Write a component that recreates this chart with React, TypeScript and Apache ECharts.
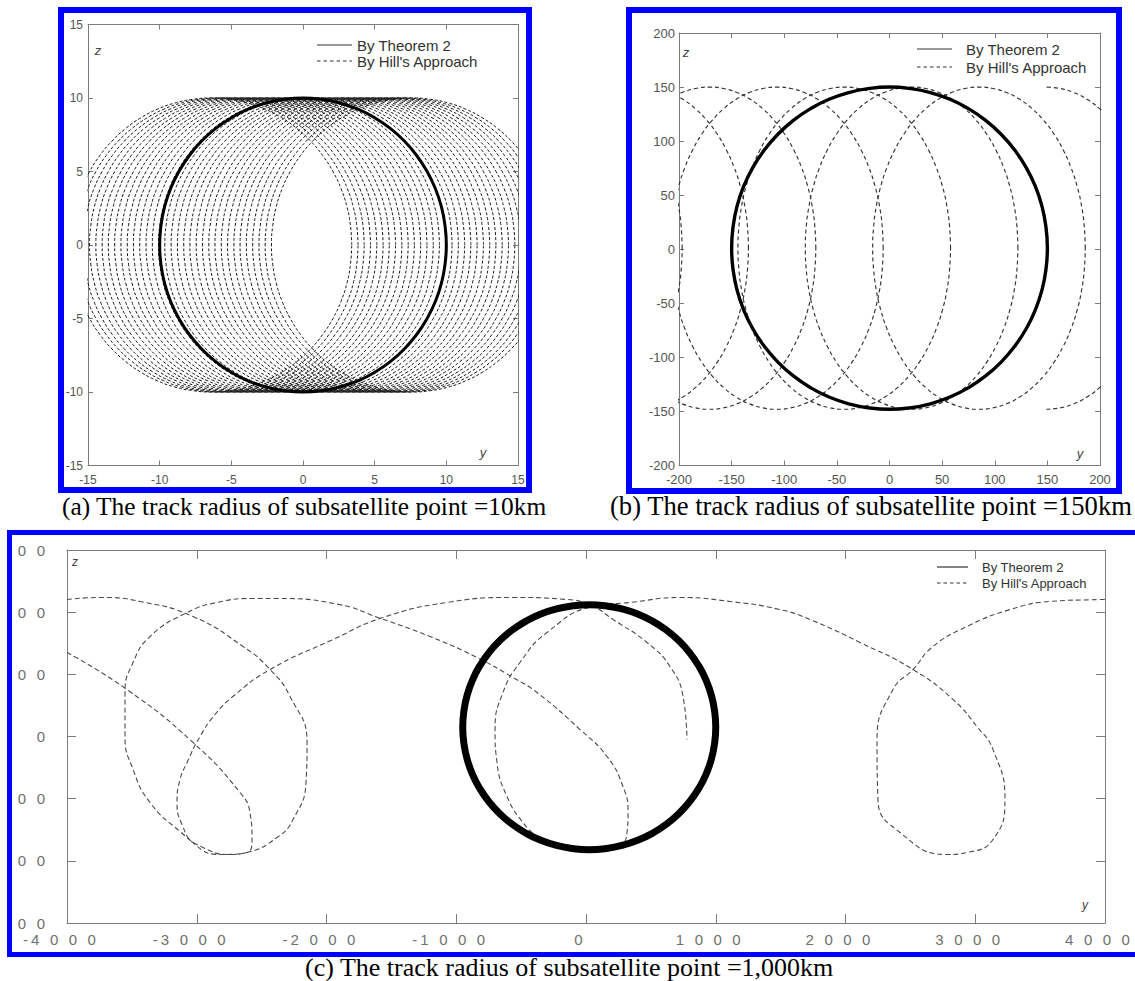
import React, { useEffect, useRef } from "react";
import * as echarts from "echarts";

// ---------- unit loop (cos, sin every 7.5 degrees), used to trace closed tracks ----------
const UNIT_LOOP: number[][] = [
  [1, 0], [0.991, 0.131], [0.966, 0.259], [0.924, 0.383], [0.866, 0.5], [0.793, 0.609],
  [0.707, 0.707], [0.609, 0.793], [0.5, 0.866], [0.383, 0.924], [0.259, 0.966], [0.131, 0.991],
  [0, 1], [-0.131, 0.991], [-0.259, 0.966], [-0.383, 0.924], [-0.5, 0.866], [-0.609, 0.793],
  [-0.707, 0.707], [-0.793, 0.609], [-0.866, 0.5], [-0.924, 0.383], [-0.966, 0.259], [-0.991, 0.131],
  [-1, 0], [-0.991, -0.131], [-0.966, -0.259], [-0.924, -0.383], [-0.866, -0.5], [-0.793, -0.609],
  [-0.707, -0.707], [-0.609, -0.793], [-0.5, -0.866], [-0.383, -0.924], [-0.259, -0.966], [-0.131, -0.991],
  [0, -1], [0.131, -0.991], [0.259, -0.966], [0.383, -0.924], [0.5, -0.866], [0.609, -0.793],
  [0.707, -0.707], [0.793, -0.609], [0.866, -0.5], [0.924, -0.383], [0.966, -0.259], [0.991, -0.131],
];

const SERIES_NAMES = ["By Theorem 2", "By Hill's Approach"];

// ---------- panel (a): track radius 10 km ----------
const A_TICKS_Y = [-15, -10, -5, 0, 5, 10, 15];
const A_TICKS_Z = [-15, -10, -5, 0, 5, 10, 15];
const A_THEOREM_CIRCLE = [0, 0, 10, 10]; // centre y, centre z, radius y, radius z
const A_HILL_LOOP_CENTRES = [
  -6.4, -5.96, -5.53, -5.09, -4.65, -4.21, -3.78, -3.34, -2.9, -2.46, -2.03,
  -1.59, -1.15, -0.71, -0.28, 0.16, 0.6, 1.04, 1.48, 1.91, 2.35, 2.79,
  3.23, 3.66, 4.1, 4.54, 4.98, 5.41, 5.85, 6.29, 6.73, 7.16, 7.6,
];
const A_HILL_LOOP_SIZE = [0, 9.8, 10]; // centre z, half-width y, half-height z

// ---------- panel (b): track radius 150 km ----------
const B_TICKS_Y = [-200, -150, -100, -50, 0, 50, 100, 150, 200];
const B_TICKS_Z = [-200, -150, -100, -50, 0, 50, 100, 150, 200];
const B_THEOREM_CIRCLE = [0, 1, 150, 149];
const B_HILL_LOOP_CENTRES = [-298, -235, -171, -107, -43, 21, 85, 149];
// drawn part of each loop, degrees (0 = rightmost point, counter-clockwise)
const B_HILL_LOOP_ARCS = [
  [0, 360], [0, 360], [0, 360], [0, 360], [0, 360], [0, 360], [0, 360], [-90, 90],
];
const B_HILL_LOOP_SIZE = [1, 101, 149];

// ---------- panel (c): track radius 1,000 km ----------
const C_TICKS_Y = [-4000, -3000, -2000, -1000, 0, 1000, 2000, 3000, 4000];
const C_TICKS_Z = [-1500, -1000, -500, 0, 500, 1000, 1500];
const C_THEOREM_CIRCLE = [25, 75, 975, 985];
const C_HILL_TRACK_1 = [
  [-4000, 1102], [-3746, 1118], [-3437, 1086], [-3029, 965], [-2643, 724], [-2435, 539],
  [-2281, 322], [-2150, -48], [-2158, -370], [-2258, -668], [-2381, -812], [-2613, -933],
  [-2744, -949], [-2952, -893], [-3129, -764], [-3360, -531], [-3491, -265], [-3553, 0],
  [-3553, 354], [-3491, 595], [-3360, 804], [-3075, 997], [-2844, 1078], [-2566, 1110],
  [-2381, 1110], [-1904, 1062], [-1603, 957], [-1202, 804], [-840, 635], [-563, 475],
  [-378, 354], [-46, 56], [162, -161], [285, -402], [324, -611], [316, -772], [262, -870],
  [-8, -915], [-301, -875], [-355, -828], [-486, -692], [-609, -483], [-686, -209],
  [-701, 56], [-640, 354], [-509, 595], [-301, 836], [54, 1046], [339, 1078], [724, 1118],
  [1110, 1086], [1495, 1021], [1726, 941], [2112, 756], [2520, 539], [2828, 298],
  [3013, 80], [3137, -105], [3229, -507], [3137, -828], [2936, -933], [2782, -949],
  [2420, -772], [2250, -507], [2243, -24], [2366, 378], [2520, 539], [2674, 724],
  [2936, 885], [3268, 1021], [3576, 1086], [3961, 1102], [4000, 1104],
];
const C_HILL_TRACK_2 = [
  [-4000, 676], [-3538, 378], [-3029, -48], [-2667, -450], [-2590, -611], [-2574, -828],
  [-2613, -933], [-2821, -949], [-3013, -869], [-3114, -708], [-3152, -531], [-3129, -346],
  [-3075, -209], [-2975, 0], [-2859, 177], [-2721, 322], [-2435, 539], [-1950, 780],
  [-1565, 957], [-1071, 1078], [-563, 1118], [-146, 1102], [54, 1046], [208, 941],
  [470, 756], [647, 563], [748, 322], [778, -24],
];

const SANS = "Liberation Sans";
const SERIF = "Liberation Serif";
const AXIS_GREY = "#7c7c7c";

// points of a loop (centre y, centre z, half-width, half-height) between two angles
function loopArc(c: number[], fromDeg: number, toDeg: number): number[][] {
  const [cy, cz, ry, rz] = c;
  const n = UNIT_LOOP.length;
  const step = 360 / n;
  const pts: number[][] = [];
  for (let k = Math.round(fromDeg / step); k <= Math.round(toDeg / step); k++) {
    const [u, v] = UNIT_LOOP[((k % n) + n) % n];
    pts.push([cy + ry * u, cz + rz * v]);
  }
  return pts;
}

function spaced(s: string): string {
  if (s === "0") return "0";
  const neg = s.startsWith("-");
  const digits = (neg ? s.slice(1) : s).split("").join("\u2002\u2009");
  return (neg ? "-\u2009" : "") + digits;
}

function buildOption() {
  const xAxes: any[] = [];
  const yAxes: any[] = [];

  const addPanel = (gi: number, tx: number[], ty: number[], lab: any) => {
    const base = (ticks: number[]) => ({
      type: "value",
      gridIndex: gi,
      min: ticks[0],
      max: ticks[ticks.length - 1],
      interval: ticks[1] - ticks[0],
      splitLine: { show: false },
      axisLine: { show: true, onZero: false, lineStyle: { color: AXIS_GREY, width: 1 } },
      axisTick: { show: true, inside: true, length: lab.tick, lineStyle: { color: AXIS_GREY, width: 1 } },
    });
    const label = (margin: number, fmt?: any, padding?: number[]) => ({
      show: true,
      color: lab.color,
      fontSize: lab.size,
      fontFamily: SANS,
      margin,
      showMinLabel: true,
      showMaxLabel: true,
      ...(fmt ? { formatter: fmt } : {}),
      ...(padding ? { padding } : {}),
    });
    xAxes.push({ ...base(tx), position: "bottom", axisLabel: label(lab.mx, lab.fx, lab.px) });
    xAxes.push({ ...base(tx), position: "top", axisLabel: { show: false } });
    yAxes.push({ ...base(ty), position: "left", axisLabel: label(lab.my, lab.fy) });
    yAxes.push({ ...base(ty), position: "right", axisLabel: { show: false } });
  };

  addPanel(0, A_TICKS_Y, A_TICKS_Z, { tick: 5, color: "#555", size: 12, mx: 8, my: 5 });
  addPanel(1, B_TICKS_Y, B_TICKS_Z, { tick: 5, color: "#555", size: 13, mx: 7, my: 4 });
  addPanel(2, C_TICKS_Y, C_TICKS_Z, {
    tick: 9, color: "#707070", size: 15, mx: 9, my: 22, px: [0, 15, 0, 0],
    fx: (v: number) => spaced(String(v)),
    fy: (v: number) => (v === 0 ? "0" : "0\u2002\u20090"),
  });

  const series: any[] = [];
  const dashed = (axis: number, data: number[][], color: string, dash: number[], width: number) => ({
    type: "line",
    name: SERIES_NAMES[1],
    xAxisIndex: axis,
    yAxisIndex: axis,
    data,
    smooth: true,
    symbol: "none",
    silent: true,
    animation: false,
    z: 2,
    lineStyle: { color, width, type: dash },
  });
  const solid = (axis: number, data: number[][], width: number) => ({
    type: "line",
    name: SERIES_NAMES[0],
    xAxisIndex: axis,
    yAxisIndex: axis,
    data,
    smooth: true,
    symbol: "none",
    silent: true,
    animation: false,
    z: 3,
    lineStyle: { color: "#000", width, type: "solid" },
  });

  A_HILL_LOOP_CENTRES.forEach((c) =>
    series.push(
      dashed(0, loopArc([c, A_HILL_LOOP_SIZE[0], A_HILL_LOOP_SIZE[1], A_HILL_LOOP_SIZE[2]], 0, 360), "#1a1a1a", [3, 2], 1)
    )
  );
  series.push(solid(0, loopArc(A_THEOREM_CIRCLE, -7.5, 367.5), 3));

  B_HILL_LOOP_CENTRES.forEach((c, i) =>
    series.push(
      dashed(
        2,
        loopArc([c, B_HILL_LOOP_SIZE[0], B_HILL_LOOP_SIZE[1], B_HILL_LOOP_SIZE[2]], B_HILL_LOOP_ARCS[i][0], B_HILL_LOOP_ARCS[i][1]),
        "#333",
        [4, 3],
        1.15
      )
    )
  );
  series.push(solid(2, loopArc(B_THEOREM_CIRCLE, -7.5, 367.5), 3.4));

  series.push(dashed(4, C_HILL_TRACK_1, "#4a4a4a", [5, 3], 1.1));
  series.push(dashed(4, C_HILL_TRACK_2, "#4a4a4a", [5, 3], 1.1));
  series.push(solid(4, loopArc(C_THEOREM_CIRCLE, -7.5, 367.5), 7));

  const legendBlock = (x1: number, x2: number, tx: number, y1: number, y2: number, size: number) => [
    { type: "line", silent: true, shape: { x1, y1, x2, y2: y1 }, style: { stroke: "#333", lineWidth: 1.2 } },
    { type: "line", silent: true, shape: { x1, y1: y2, x2, y2 }, style: { stroke: "#333", lineWidth: 1.2, lineDash: [3.5, 3] } },
    { type: "text", silent: true, x: tx, y: y1, style: { text: SERIES_NAMES[0], fill: "#333", fontSize: size, fontFamily: SANS, verticalAlign: "middle" } },
    { type: "text", silent: true, x: tx, y: y2, style: { text: SERIES_NAMES[1], fill: "#333", fontSize: size, fontFamily: SANS, verticalAlign: "middle" } },
  ];
  const axisName = (t: string, x: number, y: number, size: number) => ({
    type: "text", silent: true, x, y,
    style: { text: t, fill: "#444", fontSize: size, fontStyle: "italic", fontFamily: SANS, align: "center", verticalAlign: "middle" },
  });
  const frame = (x: number, y: number, w: number, h: number, lw: number) => ({
    type: "rect", silent: true, shape: { x, y, width: w, height: h },
    style: { fill: "none", stroke: "#0000ff", lineWidth: lw },
  });
  const caption = (t: string, x: number, y: number, size: number) => ({
    type: "text", silent: true, x, y,
    style: { text: t, fill: "#000", fontSize: size, fontFamily: SERIF, verticalAlign: "middle" },
  });

  const graphic: any[] = [
    frame(61, 10, 468, 480, 6),
    frame(629, 10, 490, 481, 6),
    frame(9.5, 532.5, 1135, 422, 5),
    ...legendBlock(317, 352, 357, 45, 61, 15),
    ...legendBlock(917, 952, 966, 49, 67, 15),
    ...legendBlock(937, 968, 982, 567, 583, 13),
    axisName("z", 98, 50, 13),
    axisName("y", 483, 452, 13),
    axisName("z", 686, 52, 13),
    axisName("y", 1080, 453, 13),
    axisName("z", 75, 562, 12),
    axisName("y", 1085, 905, 12),
    caption("(a) The track radius of subsatellite point =10km", 62, 506, 25.4),
    caption("(b) The track radius of subsatellite point =150km", 610, 506, 26.6),
    caption("(c) The track radius of subsatellite point =1,000km", 305, 967, 26),
  ];

  return {
    animation: false,
    backgroundColor: "#ffffff",
    textStyle: { fontFamily: SANS },
    grid: [
      { left: 88, top: 24.5, width: 430, height: 441, containLabel: false, outerBoundsMode: "none" },
      { left: 679, top: 33, width: 421, height: 432.5, containLabel: false, outerBoundsMode: "none" },
      { left: 67, top: 550, width: 1038, height: 373, containLabel: false, outerBoundsMode: "none" },
    ],
    xAxis: xAxes,
    yAxis: yAxes,
    series,
    graphic,
  };
}

export default function App() {
  const ref = useRef<HTMLDivElement>(null);
  useEffect(() => {
    if (!ref.current) return;
    const chart = echarts.init(ref.current, null, { renderer: "svg" });
    chart.setOption(buildOption() as any);
    return () => chart.dispose();
  }, []);
  return (
    <div
      ref={ref}
      style={{ position: "fixed", left: 0, top: 0, width: 1135, height: 981, background: "#fff" }}
    />
  );
}
